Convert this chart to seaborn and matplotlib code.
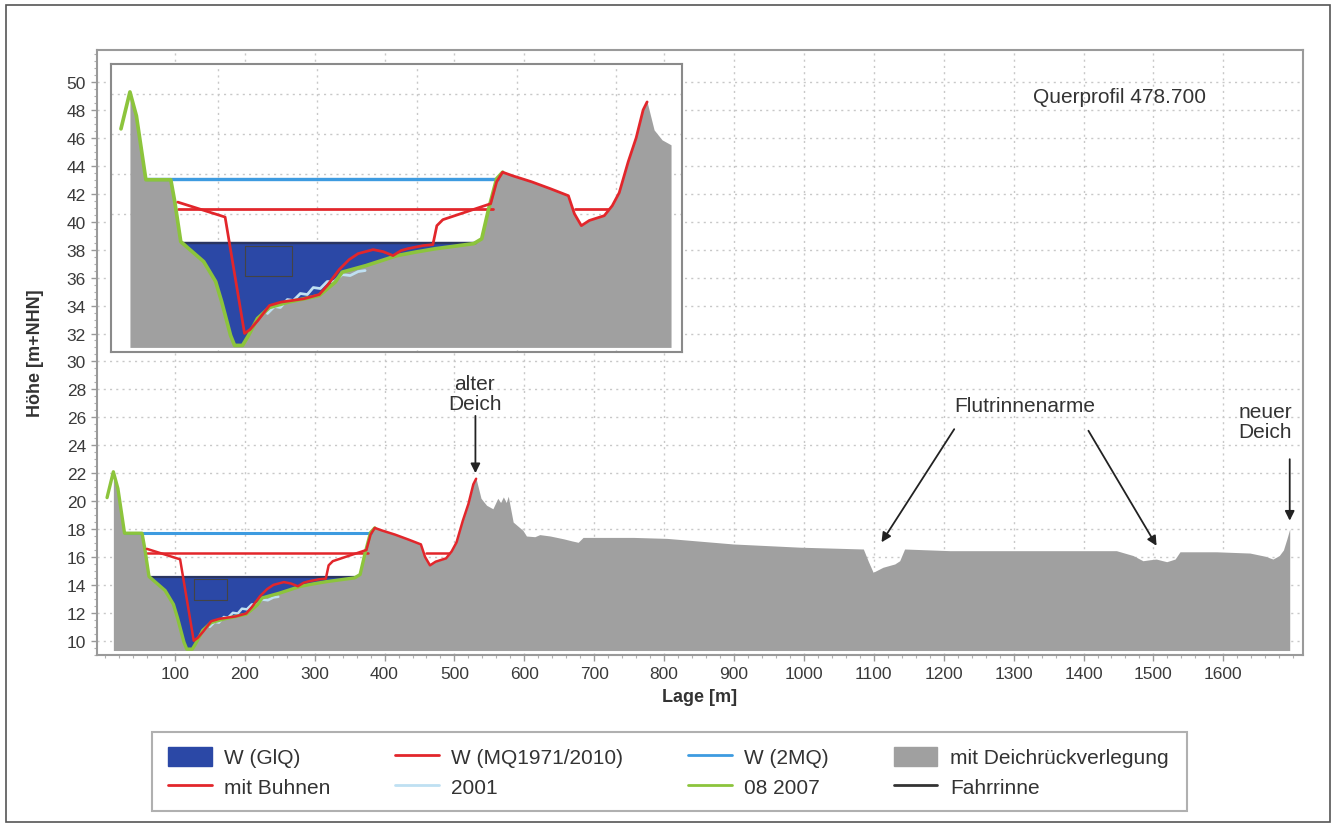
import numpy as np
import pandas as pd
import matplotlib
matplotlib.use("Agg")
import matplotlib.pyplot as plt
from matplotlib.patches import Rectangle, Patch
from matplotlib.lines import Line2D
from matplotlib.ticker import MultipleLocator, FixedLocator, NullFormatter
import seaborn as sns

sns.set_theme(style="white")
plt.rcParams["font.family"] = ["Liberation Sans", "DejaVu Sans"]

# ---------------- data ----------------
# ground profile "mit Deichrückverlegung"
ground_x = [12, 18.5, 28, 53, 57, 63, 71, 86, 98, 104, 113, 117, 125, 131, 140, 152, 171, 202,
            218, 225, 249, 280, 299, 318, 357, 365, 372, 380, 386, 396, 415, 434, 452, 458,
            465, 473, 488, 496, 503, 512, 520, 527, 531, 538, 546, 555, 562, 566, 570, 574,
            577, 584, 598, 603, 615, 622, 637, 656, 668, 677, 684, 756, 804, 899, 994, 1085,
            1092, 1099, 1113, 1130, 1137, 1144, 1209, 1280, 1447, 1471, 1485, 1495, 1504,
            1519, 1531, 1538, 1590, 1638, 1660, 1671, 1680, 1686, 1691, 1695]
ground_y = [22.1, 20.9, 17.7, 17.7, 16.6, 14.6, 14.25, 13.6, 12.6, 11.6, 9.9, 9.4, 9.4, 9.9,
            10.75, 11.3, 11.57, 11.9, 12.57, 13.07, 13.4, 13.9, 14.08, 14.24, 14.5, 14.74,
            16.25, 17.75, 18.08, 17.9, 17.6, 17.25, 16.9, 16.0, 15.4, 15.66, 15.9, 16.4, 17.05,
            18.6, 19.8, 21.2, 21.6, 20.2, 19.7, 19.45, 20.2, 19.9, 20.3, 19.9, 20.35, 18.5,
            17.9, 17.5, 17.45, 17.6, 17.5, 17.3, 17.15, 17.05, 17.4, 17.4, 17.33, 16.93, 16.7,
            16.57, 15.7, 14.9, 15.26, 15.5, 15.73, 16.57, 16.45, 16.45, 16.45, 16.1, 15.73,
            15.8, 15.85, 15.66, 15.85, 16.37, 16.37, 16.28, 16.05, 15.85, 16.1, 16.5, 17.3, 18.0]
ground_base = 9.3
inset_ground_end = 555   # the detail view stops here

# bed survey "08 2007"
bed07_x = [3, 12, 18.5, 28, 53, 57, 63, 71, 86, 98, 104, 113, 117, 125, 131, 140, 152, 171,
           202, 218, 225, 249, 280, 299, 318, 357, 365, 372, 380, 386]
bed07_y = [20.25, 22.1, 20.9, 17.7, 17.7, 16.6, 14.6, 14.25, 13.6, 12.6, 11.6, 9.9, 9.4, 9.4,
           9.9, 10.75, 11.3, 11.57, 11.9, 12.57, 13.07, 13.4, 13.9, 14.08, 14.24, 14.5, 14.74,
           16.25, 17.75, 18.08]

# profile "mit Buhnen"
buhnen_x = [60, 107.5, 127, 132.6, 140.4, 152, 163.6, 186.8, 202, 210, 222, 232, 241, 256,
            266, 276, 284, 291, 306, 316, 320, 326, 374, 380, 386, 396, 415, 434, 452, 458,
            465, 473, 488, 496, 503, 512, 520, 527, 531]
buhnen_y = [16.58, 15.83, 10.0, 10.2, 10.65, 11.4, 11.57, 11.74, 11.95, 12.4, 13.2, 13.7,
            14.0, 14.2, 14.1, 13.9, 14.15, 14.25, 14.4, 14.45, 15.4, 15.7, 16.5, 17.6, 18.08,
            17.9, 17.6, 17.25, 16.9, 16.0, 15.4, 15.66, 15.9, 16.4, 17.05, 18.6, 19.8, 21.2, 21.6]

# bed survey "2001"
bed01_x = [150, 157, 163, 170, 176, 183, 190, 196, 203, 210, 217, 225, 233, 241, 248]
bed01_y = [11.0, 11.35, 11.3, 11.7, 11.65, 12.0, 11.95, 12.3, 12.25, 12.6, 12.6, 12.95,
           12.9, 13.1, 13.15]

# water levels
glq_level = 14.55
glq_x = [64, 359]
mq_level = 16.25
mq_x = [60, 376, 459, 492]
mq_seg = [0, 0, 1, 1]
mq2_level = 17.72
mq2_x = [28, 381]

# navigation channel (Fahrrinne)
fahr_x = [127, 175, 175, 127, 127]
fahr_y = [14.4, 14.4, 12.9, 12.9, 14.4]

x_ticks = list(range(100, 1700, 100))
y_ticks = list(range(10, 52, 2))

legend_labels = ["W (GlQ)", "mit Buhnen", "W (MQ1971/2010)", "2001",
                 "W (2MQ)", "08 2007", "mit Deichrückverlegung", "Fahrrinne"]

# ---------------- colours ----------------
C_GROUND = "#a0a0a0"
C_GLQ = "#2b48a6"
C_GLQ_EDGE = "#2a3560"
C_RED = "#e2262b"
C_2MQ = "#3d9be0"
C_2001 = "#bfe0f2"
C_2007 = "#8cc43c"
C_FAHR = "#444444"

ground = pd.DataFrame({"x": ground_x, "y": ground_y})
bed07 = pd.DataFrame({"x": bed07_x, "y": bed07_y})
buhnen = pd.DataFrame({"x": buhnen_x, "y": buhnen_y})
bed01 = pd.DataFrame({"x": bed01_x, "y": bed01_y})
mq = pd.DataFrame({"x": mq_x, "y": [mq_level] * len(mq_x), "seg": mq_seg})
mq2 = pd.DataFrame({"x": mq2_x, "y": [mq2_level] * len(mq2_x)})
glq = pd.DataFrame({"x": glq_x, "y": [glq_level] * len(glq_x)})
fahr = pd.DataFrame({"x": fahr_x, "y": fahr_y})


def line(ax, df, color, lw, z, units=None):
    sns.lineplot(data=df, x="x", y="y", units=units, estimator=None, sort=False,
                 color=color, lw=lw, ax=ax, legend=False, zorder=z)


def draw(ax, scale=1.0, xmax=None):
    g = ground if xmax is None else ground[ground["x"] <= xmax]
    ax.fill_between(g["x"].to_numpy(float), ground_base, g["y"].to_numpy(float),
                    color=C_GROUND, lw=0, zorder=2)
    bx = np.array(bed07_x, float)
    by = np.array(bed07_y, float)
    ax.fill_between(bx, by, glq_level, where=by <= glq_level, interpolate=True,
                    color=C_GLQ, lw=0, zorder=3)
    line(ax, glq, C_GLQ_EDGE, 1.6 * scale, 4)
    line(ax, fahr, C_FAHR, 0.8, 4)
    line(ax, mq2, C_2MQ, 2.2 * scale, 5)
    line(ax, mq, C_RED, 1.8 * scale, 5, units="seg")
    line(ax, bed01, C_2001, 1.8 * scale, 5)
    line(ax, bed07, C_2007, 2.4 * scale, 6)
    line(ax, buhnen, C_RED, 1.8 * scale, 7)
    ax.set_xlabel("")
    ax.set_ylabel("")


fig = plt.figure(figsize=(13.38, 8.29), dpi=100)
W, H = 1338.0, 829.0

ax = fig.add_axes([97 / W, 1 - 656 / H, (1303 - 97) / W, (656 - 51) / H])
draw(ax)
ax.set_xlim(-11.4, 1714)
ax.set_ylim(8.98, 52.3)
ax.xaxis.set_major_locator(FixedLocator(x_ticks))
ax.yaxis.set_major_locator(FixedLocator(y_ticks))
ax.xaxis.set_minor_locator(MultipleLocator(20))
ax.yaxis.set_minor_locator(MultipleLocator(0.5))
ax.tick_params(axis="both", which="major", length=4, width=1, color="#9a9a9a",
               labelsize=12.5, labelcolor="#3a3a3a", pad=4, direction="out",
               bottom=True, left=True)
ax.tick_params(axis="both", which="minor", length=2.5, width=0.8, color="#b0b0b0",
               direction="out", bottom=True, left=True)
ax.grid(True, which="major", color="#c8c8c8", linestyle=(0, (1.5, 3)), lw=1.0)
ax.set_axisbelow(True)
for s in ax.spines.values():
    s.set_color("#9a9a9a")
    s.set_linewidth(1.5)
ax.set_xlabel("Lage [m]", fontsize=13, fontweight="bold", color="#333333", labelpad=5)
ax.set_ylabel("Höhe [m+NHN]", fontsize=13, fontweight="bold", color="#333333")
ax.yaxis.set_label_coords(-0.044, 0.5)

# annotations
txt_kw = dict(fontsize=15, color="#333333", ha="center", va="center", linespacing=1.05)
arr_kw = dict(arrowstyle="-|>", color="#222222", lw=1.3, mutation_scale=14, shrinkA=0, shrinkB=0)
ax.text(529, 27.7, "alter\nDeich", **txt_kw)
ax.annotate("", xy=(530, 22.0), xytext=(530, 26.1), arrowprops=arr_kw)
ax.text(1316, 26.85, "Flutrinnenarme", **txt_kw)
ax.annotate("", xy=(1111, 17.05), xytext=(1215, 25.15), arrowprops=arr_kw)
ax.annotate("", xy=(1504.5, 16.8), xytext=(1407, 25.04), arrowprops=arr_kw)
ax.text(1659.5, 25.7, "neuer\nDeich", **txt_kw)
ax.annotate("", xy=(1695, 18.6), xytext=(1695, 23.0), arrowprops=arr_kw)
ax.text(1327.6, 49.0, "Querprofil 478.700", fontsize=15, color="#333333", ha="left", va="center")

# inset (zoom of the main channel)
axi = fig.add_axes([111 / W, 1 - 353 / H, (682 - 111) / W, (353 - 65) / H], zorder=5)
axi.set_facecolor("white")
draw(axi, scale=1.1, xmax=inset_ground_end)
axi.set_xlim(-7, 566)
axi.set_ylim(9.07, 23.5)
axi.xaxis.set_major_locator(FixedLocator([100, 200, 300, 400, 500]))
axi.yaxis.set_major_locator(FixedLocator([16, 18, 20, 22]))
axi.xaxis.set_major_formatter(NullFormatter())
axi.yaxis.set_major_formatter(NullFormatter())
axi.tick_params(length=0)
axi.grid(True, color="#c8c8c8", linestyle=(0, (1.5, 3)), lw=1.0)
axi.set_axisbelow(True)
for s in axi.spines.values():
    s.set_color("#8a8a8a")
    s.set_linewidth(1.5)

# legend
handles = [
    Patch(facecolor=C_GLQ, edgecolor=C_GLQ),
    Line2D([], [], color=C_RED, lw=2),
    Line2D([], [], color=C_RED, lw=2),
    Line2D([], [], color=C_2001, lw=2),
    Line2D([], [], color=C_2MQ, lw=2),
    Line2D([], [], color=C_2007, lw=2),
    Patch(facecolor=C_GROUND, edgecolor=C_GROUND),
    Line2D([], [], color="#333333", lw=2),
]
fig.legend(handles, legend_labels, ncol=4, loc="upper left",
           bbox_to_anchor=(168 / W, 1 - 748 / H), frameon=False, fontsize=15,
           handlelength=2.1, handleheight=1.0, handletextpad=0.6, columnspacing=3.1,
           labelspacing=0.45, borderpad=0, borderaxespad=0, labelcolor="#333333")
fig.patches.append(Rectangle((152 / W, 1 - 812 / H), (1187 - 152) / W, (812 - 733) / H,
                             transform=fig.transFigure, fill=False, ec="#b0b0b0", lw=1.5))
# outer frame
fig.patches.append(Rectangle((6 / W, 1 - 823 / H), (1330 - 6) / W, (823 - 6) / H,
                             transform=fig.transFigure, fill=False, ec="#555555", lw=1.2))

fig.savefig("out.png", dpi=100)
